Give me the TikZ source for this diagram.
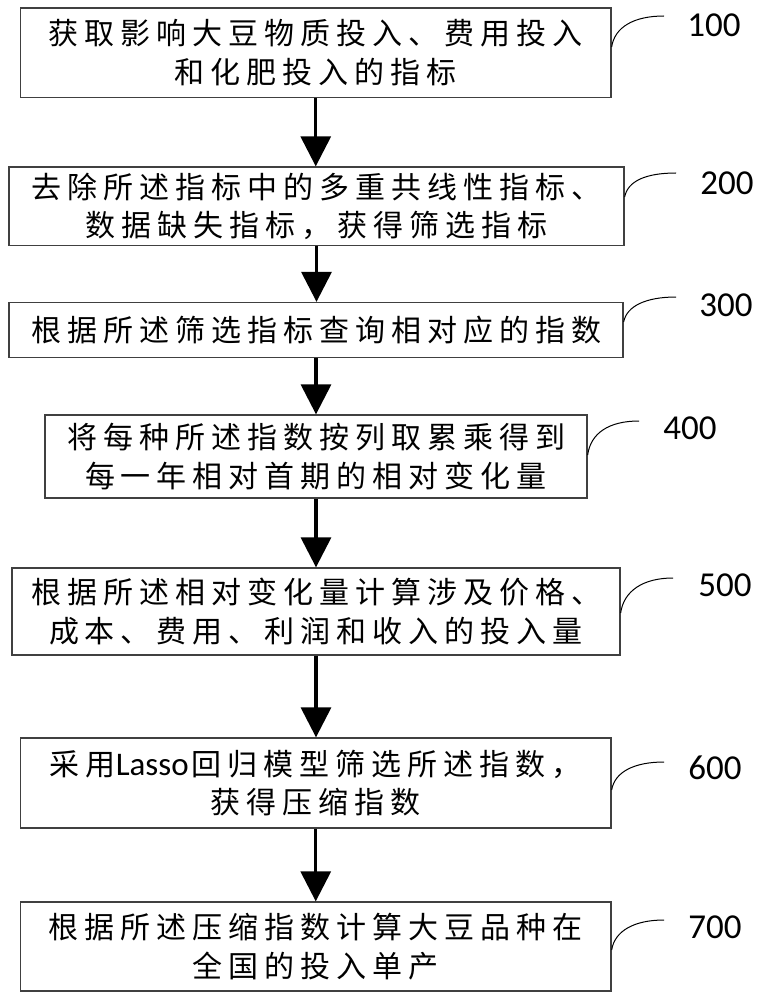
\documentclass[tikz,border=0pt]{standalone}
\usepackage{fontspec}
\newfontfamily\cjk[LetterSpace=20]{Noto Sans CJK SC}
\newfontfamily\numfont{Carlito}
\usetikzlibrary{arrows.meta}
\begin{document}
\begin{tikzpicture}[x=1pt,y=-1pt,
  stepbox/.style={draw=black!75, line width=1.3pt, inner sep=0pt, align=center,
    font=\cjk\fontsize{30}{38.5}\selectfont},
  arr/.style={line width=3.3pt, -{Triangle[width=30pt,length=30pt]}},
  leader/.style={line width=1pt},
  num/.style={font=\numfont\fontsize{35}{40}\selectfont, inner sep=0pt}]
\useasboundingbox (0,0) rectangle (762,1000);

\node[stepbox, minimum width=590.5pt, minimum height=89.5pt] (b1) at (315.75,52.75)
  {获取影响大豆物质投入、费用投入\\和化肥投入的指标};
\node[stepbox, minimum width=615pt, minimum height=78.5pt] (b2) at (316.5,206.25)
  {去除所述指标中的多重共线性指标、\\数据缺失指标，获得筛选指标};
\node[stepbox, minimum width=614pt, minimum height=55pt] (b3) at (316,330)
  {根据所述筛选指标查询相对应的指数};
\node[stepbox, minimum width=542pt, minimum height=83pt] (b4) at (316,456.5)
  {将每种所述指数按列取累乘得到\\每一年相对首期的相对变化量};
\node[stepbox, minimum width=608pt, minimum height=87pt] (b5) at (316,611.5)
  {根据所述相对变化量计算涉及价格、\\成本、费用、利润和收入的投入量};
\node[stepbox, minimum width=590.5pt, minimum height=90pt] (b6) at (315.75,783)
  {采用{\numfont\fontsize{33}{34}\selectfont Lasso}\hspace{3pt}回归模型筛选所述指数，\\获得压缩指数};
\node[stepbox, minimum width=590.5pt, minimum height=89pt] (b7) at (315.75,946.5)
  {根据所述压缩指数计算大豆品种在\\全国的投入单产};

\foreach \a/\b in {b1/b2,b2/b3,b3/b4,b4/b5,b5/b6,b6/b7}
  \draw[arr] (\a.south) -- (\a.south |- \b.north);

\coordinate (e1) at (664,16);
\coordinate (e2) at (676,173);
\coordinate (e3) at (676,297);
\coordinate (e4) at (639,421);
\coordinate (e5) at (673,578);
\coordinate (e6) at (664,762);
\coordinate (e7) at (664,920);

\draw[leader] (b1.east |- 0,47) .. controls +(3,-20) and +(-30,0) .. (e1);
\draw[leader] (b2.east |- 0,197) .. controls +(3,-16) and +(-30,0) .. (e2);
\draw[leader] (b3.east |- 0,322) .. controls +(3,-16) and +(-30,0) .. (e3);
\draw[leader] (b4.east |- 0,455) .. controls +(3,-22) and +(-30,0) .. (e4);
\draw[leader] (b5.east |- 0,613) .. controls +(3,-22) and +(-30,0) .. (e5);
\draw[leader] (b6.east |- 0,790) .. controls +(3,-18) and +(-30,0) .. (e6);
\draw[leader] (b7.east |- 0,950) .. controls +(3,-19) and +(-30,0) .. (e7);

\node[num] (n1) at (714,25) {100};
\node[num] (n2) at (727,183) {200};
\node[num] (n3) at (726,305) {300};
\node[num] (n4) at (690,428) {400};
\node[num] (n5) at (725,585) {500};
\node[num] (n6) at (715,768) {600};
\node[num] (n7) at (715,927) {700};
\end{tikzpicture}
\end{document}
